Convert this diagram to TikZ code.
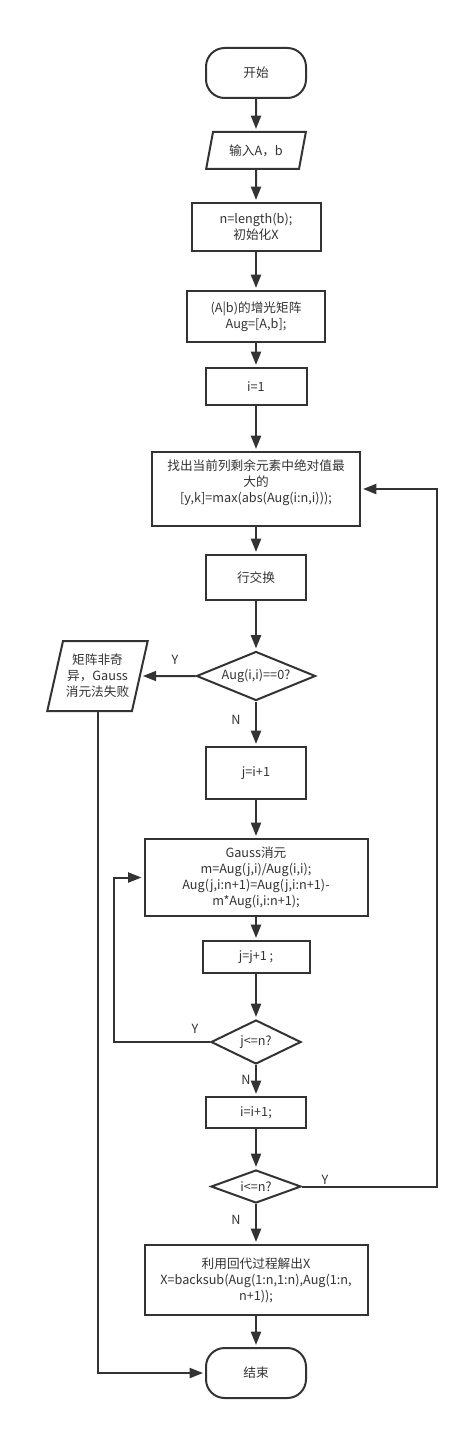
\documentclass[tikz,border=0pt]{standalone}
\usepackage{fontspec}
\setmainfont{Noto Sans CJK SC}
\usetikzlibrary{shapes.geometric, arrows.meta}
\definecolor{linegray}{HTML}{333333}

\tikzset{
  every node/.style={font=\fontsize{9.5}{12}\selectfont, text=linegray},
  flowline/.style={draw=linegray, line width=1.5pt},
  arr/.style={flowline, -{Triangle[length=10pt,width=7.5pt]}, shorten >=1.5pt},
  term/.style={flowline, rectangle, rounded corners=14pt, minimum width=75pt, minimum height=37.5pt},
  proc/.style={flowline, rectangle, align=center},
  io/.style={flowline, trapezium, trapezium stretches=true, align=center, inner sep=1pt},
  decide/.style={flowline, diamond, aspect=2.6, inner sep=0pt},
  branchlabel/.style={inner sep=0pt}
}

\begin{document}
\begin{tikzpicture}[x=0.75pt,y=0.75pt,yscale=-1,xscale=1]
\useasboundingbox (0,0) rectangle (469,1430);

% Terminal: start
\node[term] (start) at (256,73) {开始};
% Input A, b
\node[io, trapezium left angle=73, trapezium right angle=107, minimum width=75pt, minimum height=27.75pt] (input) at (256,150.5) {输入A，b};
% Initialisation
\node[proc, minimum width=96.75pt, minimum height=36pt] (init) at (256,227) {n=length(b);\\初始化X};
% Augmented matrix
\node[proc, minimum width=103.5pt, minimum height=38.25pt] (aug) at (256,316.5) {(A|b)的增光矩阵\\Aug=[A,b];};
% i = 1
\node[proc, minimum width=75.75pt, minimum height=27.75pt] (ione) at (256,386.5) {i=1};
% Pivot search
\node[proc, minimum width=156pt, minimum height=55.5pt] (find) at (256,489) {找出当前列剩余元素中绝对值最\\大的\\{[y,k]=max(abs(Aug(i:n,i)));}\\\mbox{}};
% Row swap
\node[proc, minimum width=75pt, minimum height=33.75pt] (swap) at (256,577.5) {行交换};
% Zero pivot test
\node[decide, minimum width=89.25pt, minimum height=36.75pt] (zero) at (256,676) {Aug(i,i)==0?};
% Failure output
\node[io, trapezium left angle=72, trapezium right angle=108, minimum width=75.75pt, minimum height=52.5pt] (fail) at (97.5,676) {矩阵非奇\\异，Gauss\\消元法失败};
% j = i + 1
\node[proc, minimum width=75pt, minimum height=39pt] (jinit) at (256,773) {j=i+1};
% Elimination step
\node[proc, minimum width=167.25pt, minimum height=57.75pt] (gauss) at (256,877.5) {Gauss消元\\m=Aug(j,i)/Aug(i,i);\\Aug(j,i:n+1)=Aug(j,i:n+1)-\\m*Aug(i,i:n+1);};
% j = j + 1
\node[proc, minimum width=80.25pt, minimum height=24pt] (jinc) at (256,957) {j=j+1 ;};
% j <= n test
\node[decide, minimum width=67.5pt, minimum height=33pt] (jtest) at (256,1042) {j<=n?};
% i = i + 1
\node[proc, minimum width=75pt, minimum height=23.25pt] (iinc) at (256,1112.5) {i=i+1;};
% i <= n test
\node[decide, minimum width=67.5pt, minimum height=24.75pt] (itest) at (256,1186.5) {i<=n?};
% Back substitution
\node[proc, minimum width=167.25pt, minimum height=52.5pt] (backsub) at (256,1280) {利用回代过程解出X\\X=backsub(Aug(1:n,1:n),Aug(1:n,\\n+1));};
% Terminal: end
\node[term] (end) at (256,1373) {结束};

% Loop corners
\coordinate (jloop) at (114,1042);
\coordinate (iloop) at (437,1186.5);

% Main flow
\draw[arr] (start) -- (input);
\draw[arr] (input) -- (init);
\draw[arr] (init) -- (aug);
\draw[arr] (aug) -- (ione);
\draw[arr] (ione) -- (find);
\draw[arr] (find) -- (swap);
\draw[arr] (swap) -- (zero);
\draw[arr] (zero) -- (fail);
\draw[arr] (zero) -- (jinit);
\draw[arr] (jinit) -- (gauss);
\draw[arr] (gauss) -- (jinc);
\draw[arr] (jinc) -- (jtest);
\draw[arr] (jtest) -- (iinc);
\draw[arr] (iinc) -- (itest);
\draw[arr] (itest) -- (backsub);
\draw[arr] (backsub) -- (end);

% Loops back
\draw[arr] (jtest.west) -- (jloop) |- (gauss.west);
\draw[arr] (itest.east) -- (iloop) |- (find.east);
\draw[arr] (fail.south) |- (end.west);

% Branch labels
\node[branchlabel] (yzero) at (175,660) {Y};
\node[branchlabel] (nzero) at (236,720) {N};
\node[branchlabel] (yj) at (195,1029) {Y};
\node[branchlabel] (nj) at (246,1080) {N};
\node[branchlabel] (yi) at (325,1180) {Y};
\node[branchlabel] (ni) at (236,1220) {N};

\end{tikzpicture}
\end{document}
